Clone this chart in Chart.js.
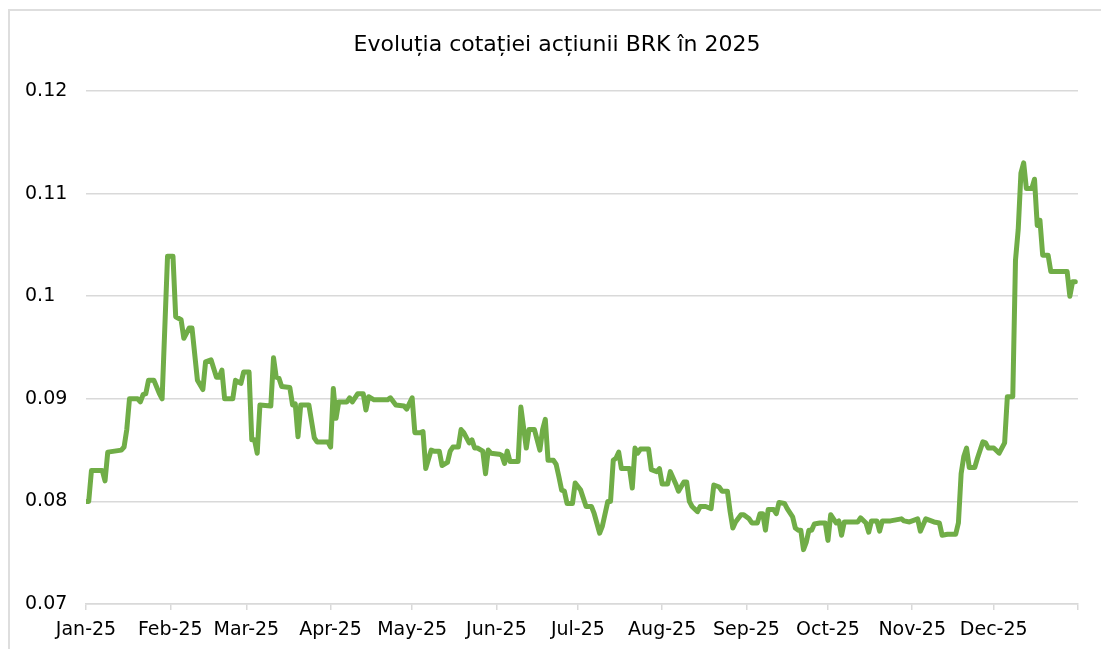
<!DOCTYPE html>
<html lang="ro">
<head>
<meta charset="utf-8">
<title>Evoluția cotației acțiunii BRK în 2025</title>
<script src="https://cdn.jsdelivr.net/npm/chart.js@4/dist/chart.umd.min.js"></script>
<style>
    body { margin: 0; background: #fff; overflow: hidden; }
    #cadru {
        position: absolute; left: 8px; top: 9px;
        width: 1300px; height: 900px;
        border: 2px solid #dedede;
    }
    #grafic { position: absolute; left: 0; top: 0; }
</style>
</head>
<body>
<div id="cadru"></div>
<canvas id="grafic" width="1101" height="649"></canvas>
<script>
// Titlul graficului
const titlu = 'Evoluția cotației acțiunii BRK în 2025';

// Etichetele lunilor și ziua (din an) în care începe fiecare lună
const luni = ['Jan-25', 'Feb-25', 'Mar-25', 'Apr-25', 'May-25', 'Jun-25',
              'Jul-25', 'Aug-25', 'Sep-25', 'Oct-25', 'Nov-25', 'Dec-25', ''];
const inceputLuni = [0, 31, 59, 90, 120, 151, 181, 212, 243, 273, 304, 334, 365];

// Zilele de tranzacționare (zile de la 1 ianuarie 2025)
const zile = [
    0, 1, 2, 6, 7, 8, 13, 14, 15, 16, 19, 20, 21, 22, 23, 25, 27, 28,
    30, 32, 33, 35, 36, 38, 39, 41, 43, 44, 46, 48, 49, 50, 51, 54, 55, 57, 58,
    60, 61, 62, 63, 64, 68, 69, 70, 71, 72, 75, 76, 77, 78, 79, 82, 84, 85, 89,
    90, 91, 92, 93, 96, 97, 98, 100, 102, 103, 104, 106, 111, 112, 114, 117, 118,
    120, 121, 123, 124, 125, 127, 128, 130, 131, 133, 134, 135, 137, 138, 139, 141, 142, 143, 144, 146, 147, 148, 149,
    152, 153, 154, 155, 156, 159, 160, 162, 163, 165, 167, 168, 169, 170, 172, 173, 174, 175, 176, 177, 179,
    180, 182, 184, 186, 187, 189, 190, 192, 193, 194, 195, 196, 197, 200, 201, 202, 203, 204, 207, 208, 210, 211,
    212, 214, 215, 217, 218, 220, 221, 222, 223, 225, 226, 228, 230, 231, 233, 234, 236, 237, 238, 239, 241, 242,
    244, 245, 247, 248, 249, 250, 251, 253, 254, 255, 257, 258, 260, 261, 262, 263, 264, 265, 266, 267, 268, 270, 272,
    273, 274, 276, 277, 278, 279, 282, 284, 285, 287, 288, 289, 291, 292, 293, 296, 298, 300, 301, 303,
    306, 307, 309, 310, 312, 314, 315, 317, 320, 321, 322, 323, 324, 325, 327, 328, 330, 331, 332,
    334, 336, 338, 339, 341, 342, 343, 344, 345, 346, 348, 349, 350, 351, 352, 354, 355, 361, 362, 363, 364
];

// Cotația de închidere (lei) pentru fiecare zi de mai sus
const cotatii = [
    0.0800, 0.0800, 0.0830, 0.0830, 0.0820, 0.0848, 0.0850, 0.0853, 0.0870, 0.0900, 0.0900, 0.0897, 0.0904, 0.0905, 0.0918, 0.0918, 0.0905, 0.0900,
    0.1039, 0.1039, 0.0980, 0.0977, 0.0959, 0.0969, 0.0969, 0.0918, 0.0909, 0.0936, 0.0938, 0.0921, 0.0921, 0.0928, 0.0900, 0.0900, 0.0918, 0.0915, 0.0926,
    0.0926, 0.0860, 0.0860, 0.0847, 0.0894, 0.0893, 0.0940, 0.0921, 0.0920, 0.0912, 0.0911, 0.0894, 0.0895, 0.0863, 0.0894, 0.0894, 0.0862, 0.0858, 0.0858,
    0.0853, 0.0910, 0.0881, 0.0897, 0.0897, 0.0901, 0.0897, 0.0905, 0.0905, 0.0889, 0.0902, 0.0899, 0.0899, 0.0901, 0.0894, 0.0893, 0.0890,
    0.0901, 0.0867, 0.0867, 0.0868, 0.0832, 0.0850, 0.0849, 0.0849, 0.0835, 0.0838, 0.0849, 0.0853, 0.0853, 0.0870, 0.0867, 0.0857, 0.0860, 0.0852, 0.0852, 0.0849, 0.0827, 0.0850, 0.0847,
    0.0846, 0.0845, 0.0837, 0.0849, 0.0839, 0.0839, 0.0892, 0.0852, 0.0870, 0.0870, 0.0850, 0.0870, 0.0880, 0.0840, 0.0840, 0.0836, 0.0824, 0.0811, 0.0810, 0.0798, 0.0798,
    0.0818, 0.0811, 0.0795, 0.0795, 0.0788, 0.0769, 0.0776, 0.0800, 0.0800, 0.0840, 0.0842, 0.0848, 0.0832, 0.0832, 0.0813, 0.0852, 0.0847, 0.0851, 0.0851, 0.0831, 0.0829, 0.0832,
    0.0817, 0.0817, 0.0829, 0.0817, 0.0810, 0.0819, 0.0819, 0.0800, 0.0795, 0.0790, 0.0795, 0.0795, 0.0793, 0.0816, 0.0814, 0.0810, 0.0810, 0.0790, 0.0774, 0.0780, 0.0787, 0.0787,
    0.0783, 0.0779, 0.0779, 0.0788, 0.0788, 0.0772, 0.0792, 0.0792, 0.0788, 0.0799, 0.0798, 0.0793, 0.0785, 0.0774, 0.0772, 0.0772, 0.0753, 0.0760, 0.0772, 0.0772, 0.0778, 0.0779, 0.0779,
    0.0762, 0.0787, 0.0779, 0.0781, 0.0767, 0.0780, 0.0780, 0.0780, 0.0784, 0.0779, 0.0770, 0.0781, 0.0781, 0.0771, 0.0781, 0.0781, 0.0782, 0.0783, 0.0781, 0.0780,
    0.0783, 0.0771, 0.0783, 0.0782, 0.0780, 0.0779, 0.0767, 0.0768, 0.0768, 0.0779, 0.0827, 0.0844, 0.0852, 0.0833, 0.0833, 0.0842, 0.0858, 0.0857, 0.0852,
    0.0852, 0.0847, 0.0857, 0.0902, 0.0902, 0.1035, 0.1065, 0.1120, 0.1130, 0.1105, 0.1105, 0.1114, 0.1069, 0.1074, 0.1040, 0.1040, 0.1024, 0.1024, 0.1000, 0.1014, 0.1014
];

// Limitele axei verticale
const yMin = 0.07;
const yMax = 0.12;
const yPas = 0.01;

const fontText = '"DejaVu Sans", "Liberation Sans", Arial, sans-serif';
const culoareGrila = '#d9d9d9';

// Plugin simplu pentru titlu (centrat pe cadru, nu pe zona graficului)
const pluginTitlu = {
    id: 'titluCadru',
    afterDraw(chart) {
        const ctx = chart.ctx;
        ctx.save();
        ctx.font = '22px ' + fontText;
        ctx.fillStyle = '#000';
        ctx.textAlign = 'center';
        ctx.textBaseline = 'alphabetic';
        ctx.fillText(titlu, 557, 51);
        ctx.restore();
    }
};

const puncte = zile.map((z, i) => ({ x: z, y: cotatii[i] }));

new Chart(document.getElementById('grafic'), {
    type: 'line',
    data: {
        datasets: [{
            label: 'BRK',
            data: puncte,
            borderColor: '#70ad47',
            borderWidth: 5,
            borderJoinStyle: 'round',
            borderCapStyle: 'round',
            pointRadius: 0,
            tension: 0,
            fill: false
        }]
    },
    options: {
        responsive: false,
        animation: false,
        layout: { padding: { top: 91, right: 23, bottom: 0, left: 25 } },
        plugins: {
            legend: { display: false },
            tooltip: { enabled: false },
            title: { display: false }
        },
        scales: {
            x: {
                type: 'linear',
                min: 0,
                max: 365,
                afterBuildTicks: (scale) => {
                    scale.ticks = inceputLuni.map(v => ({ value: v }));
                },
                afterFit: (scale) => { scale.height = 45; },
                ticks: {
                    autoSkip: false,
                    maxRotation: 0,
                    padding: 9,
                    color: '#000',
                    font: { family: fontText, size: 19 },
                    callback: (val, idx) => luni[idx]
                },
                grid: {
                    drawOnChartArea: false,
                    drawTicks: true,
                    tickLength: 6,
                    color: culoareGrila,
                    lineWidth: 1.5
                },
                border: { color: culoareGrila, width: 1.5 }
            },
            y: {
                min: yMin,
                max: yMax,
                afterFit: (scale) => { scale.width = 61; },
                ticks: {
                    stepSize: yPas,
                    crossAlign: 'far',
                    padding: 20,
                    color: '#000',
                    font: { family: fontText, size: 19 },
                    callback: (val) => String(parseFloat(val.toFixed(2)))
                },
                grid: {
                    drawTicks: false,
                    color: culoareGrila,
                    lineWidth: 1.5
                },
                border: { display: false }
            }
        }
    },
    plugins: [pluginTitlu]
});
</script>
</body>
</html>
